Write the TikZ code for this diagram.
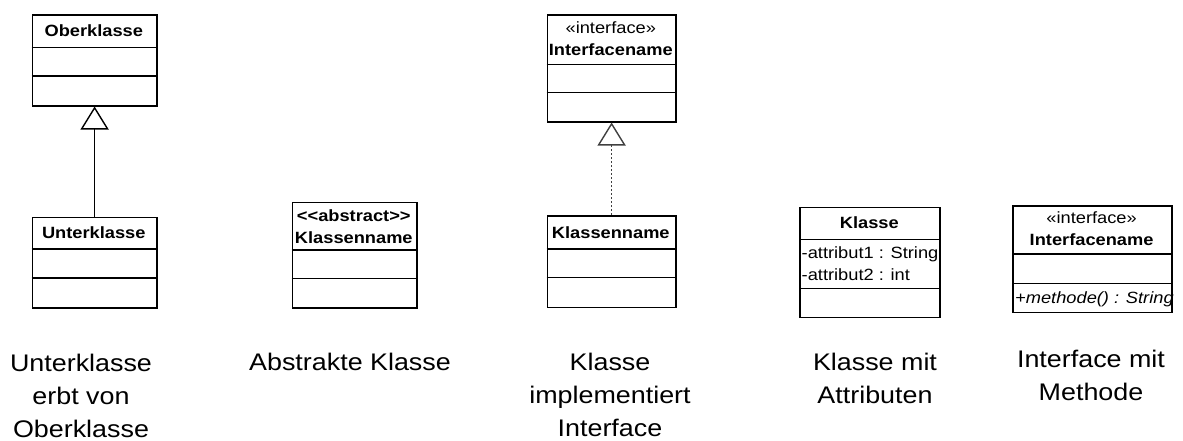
\documentclass[tikz,border=0pt]{standalone}
\usepackage{fontspec}
\setmainfont{Liberation Sans}[FakeStretch=1.12]
\usetikzlibrary{arrows.meta}
\begin{document}
\begin{tikzpicture}[x=1pt,y=-1pt,
  umlbox/.style={draw, line width=1.5pt, inner sep=0pt, anchor=north west},
  umlsep/.style={line width=1.5pt},
  lbl/.style={inner sep=0pt, anchor=base, font=\fontsize{16.3}{20}\selectfont},
  lblb/.style={inner sep=0pt, anchor=base, font=\fontsize{16.3}{20}\selectfont\bfseries},
  member/.style={inner sep=0pt, anchor=base west, font=\fontsize{16.3}{20}\selectfont},
  % captions are placed at the baseline of their last line
  caption/.style={inner sep=0pt, anchor=base, align=center, font=\fontsize{24}{33}\selectfont},
  inherit/.style={line width=1pt, -{Triangle[open, width=28pt, length=23pt, line width=1.4pt, fill=white]}},
  realize/.style={inherit, dash pattern=on 2pt off 2pt, draw=black!75}
]
\useasboundingbox (0,0) rectangle (1183,440);

% --- Oberklasse / Unterklasse (inheritance)
\node[umlbox, minimum width=124.3pt, minimum height=91pt] (ober) at (31.7,14) {};
\draw[umlsep] (31.7,47.7) -- (156,47.7);
\draw[umlsep] (31.7,76) -- (156,76);
\node[lblb] (oberT) at (93.8,36.7) {Oberklasse};

\node[umlbox, minimum width=124.3pt, minimum height=90.3pt] (unter) at (31.7,216.7) {};
\draw[umlsep] (31.7,249) -- (156,249);
\draw[umlsep] (31.7,278) -- (156,278);
\node[lblb] (unterT) at (93.8,238.5) {Unterklasse};

\draw[inherit] (unter.north) -- (ober.south);

\node[caption] (cap1) at (81,437) {Unterklasse\\erbt von\\Oberklasse};

% --- abstract class
\node[umlbox, minimum width=124.3pt, minimum height=105.3pt] (abs) at (291.7,201.7) {};
\draw[umlsep] (291.7,250) -- (416,250);
\draw[umlsep] (291.7,278.7) -- (416,278.7);
\node[lblb] (absS) at (353.8,221.5) {<{}<abstract>{}>};
\node[lblb] (absT) at (353.8,243.3) {Klassenname};

\node[caption] (cap2) at (350,370) {Abstrakte Klasse};

% --- interface realization
\node[umlbox, minimum width=128.3pt, minimum height=107pt] (iface) at (546.7,14) {};
\draw[umlsep] (546.7,64.3) -- (675,64.3);
\draw[umlsep] (546.7,92.7) -- (675,92.7);
\node[lbl] (ifaceS) at (610.8,33.3) {«interface»};
\node[lblb] (ifaceT) at (610.8,55) {Interfacename};

\node[umlbox, minimum width=128.3pt, minimum height=91.7pt] (impl) at (546.7,215) {};
\draw[umlsep] (546.7,249) -- (675,249);
\draw[umlsep] (546.7,277.7) -- (675,277.7);
\node[lblb] (implT) at (610.8,238.5) {Klassenname};

\draw[realize] (impl.north) -- (iface.south);

\node[caption] (cap3) at (610,436) {Klasse\\implementiert\\Interface};

% --- class with attributes
\node[umlbox, minimum width=140pt, minimum height=110pt] (attr) at (799.3,206.7) {};
\draw[umlsep] (799.3,239.3) -- (939.3,239.3);
\draw[umlsep] (799.3,288.3) -- (939.3,288.3);
\node[lblb] (attrT) at (869.3,228.3) {Klasse};
\node[member] (attr1) at (801.5,258.3) {-attribut1 : String};
\node[member] (attr2) at (801.5,280.7) {-attribut2 : int};

\node[caption] (cap4) at (875,403) {Klasse mit\\Attributen};

% --- interface with method
\node[umlbox, minimum width=158.7pt, minimum height=106.7pt] (meth) at (1012.3,205) {};
\draw[umlsep] (1012.3,254) -- (1171,254);
\draw[umlsep] (1012.3,283.3) -- (1171,283.3);
\node[lbl] (methS) at (1091.6,223) {«interface»};
\node[lblb] (methT) at (1091.6,245) {Interfacename};
\node[member, font=\fontsize{16.3}{20}\selectfont\itshape] (meth1) at (1015,303.3) {+methode() : String};

\node[caption] (cap5) at (1091,400) {Interface mit\\Methode};
\end{tikzpicture}
\end{document}
